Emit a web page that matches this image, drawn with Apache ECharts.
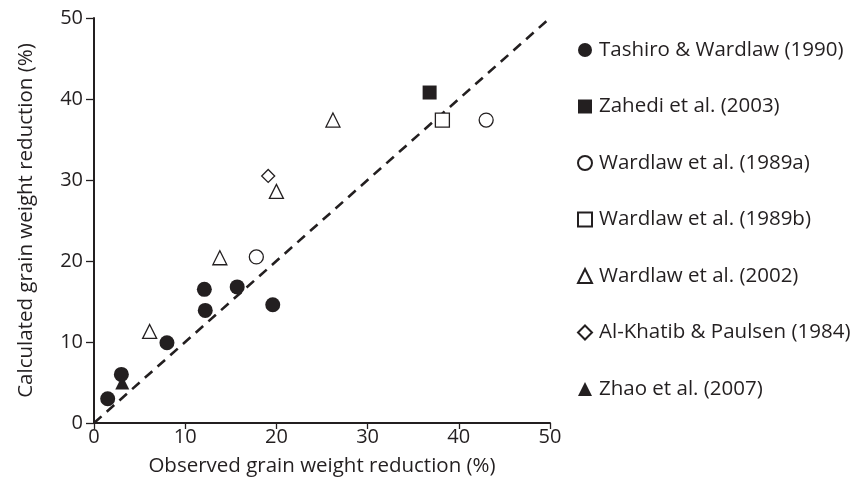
<!DOCTYPE html>
<html>
<head>
<meta charset="utf-8">
<script src="https://cdn.jsdelivr.net/npm/echarts@6/dist/echarts.min.js"></script>
<style>html,body{margin:0;padding:0;background:#fff;}#c{width:853px;height:488px;}</style>
</head>
<body>
<div id="c"></div>
<script>
var seriesNames = ['Tashiro & Wardlaw (1990)','Zahedi et al. (2003)','Wardlaw et al. (1989a)','Wardlaw et al. (1989b)','Wardlaw et al. (2002)','Al-Khatib & Paulsen (1984)','Zhao et al. (2007)'];
var tashiro = [[1.5,3.0],[3.0,6.0],[8.0,9.9],[12.1,16.5],[12.2,13.9],[15.7,16.8],[19.6,14.6]];
var zahedi = [[36.8,40.8]];
var wardlaw1989a = [[17.8,20.5],[43.0,37.4]];
var wardlaw1989b = [[38.2,37.4]];
var wardlaw2002 = [[6.1,11.3],[13.8,20.4],[20.0,28.6],[26.2,37.4]];
var alKhatib = [[19.1,30.5]];
var zhao = [[3.1,5.0]];
var oneToOne = [[0,0],[50,50]];
var xTicks = [0,10,20,30,40,50];
var yTicks = [0,10,20,30,40,50];

var ink = '#231f20';
var font = '"Open Sans", sans-serif';
function sc(name, data, symbol, size, filled) {
  return {
    name: name, type: 'scatter', data: data, symbol: symbol, symbolSize: size,
    itemStyle: { color: filled ? ink : '#fff', borderColor: ink, borderWidth: filled ? 0 : 1.3, opacity: 1 },
    emphasis: { disabled: true }, z: 3
  };
}
var chart = echarts.init(document.getElementById('c'), null, { renderer: 'canvas' });
chart.setOption({
  animation: false,
  backgroundColor: '#fff',
  textStyle: { fontFamily: font, color: ink, fontSize: 20 },
  grid: { left: 94, right: 303, top: 18, bottom: 65, containLabel: false },
  xAxis: {
    type: 'value', min: xTicks[0], max: xTicks[xTicks.length-1], interval: 10,
    name: 'Observed grain weight reduction (%)', nameLocation: 'middle', nameGap: 33,
    nameTextStyle: { fontSize: 20.5, color: ink, fontFamily: font },
    axisLine: { show: true, onZero: false, lineStyle: { color: ink, width: 2 } },
    axisTick: { show: true, length: 6, lineStyle: { color: ink, width: 1.3 } },
    axisLabel: { fontSize: 20, color: ink, margin: 4, fontFamily: font },
    splitLine: { show: false }
  },
  yAxis: {
    type: 'value', min: yTicks[0], max: yTicks[yTicks.length-1], interval: 10,
    name: 'Calculated grain weight reduction (%)', nameLocation: 'middle', nameGap: 57, nameRotate: 90,
    nameTextStyle: { fontSize: 20.5, color: ink, fontFamily: font },
    axisLine: { show: true, onZero: false, lineStyle: { color: ink, width: 2 } },
    axisTick: { show: true, length: 8, lineStyle: { color: ink, width: 1.3 } },
    axisLabel: { fontSize: 20, color: ink, margin: 11, fontFamily: font },
    splitLine: { show: false }
  },
  legend: {
    orient: 'vertical', left: 572, top: 34,
    data: seriesNames,
    itemWidth: 14, itemHeight: 14, itemGap: 34.5,
    textStyle: { fontSize: 20.5, color: ink, fontFamily: font, lineHeight: 22, padding: [0,0,0,2] },
    selectedMode: false
  },
  series: [
    {
      name: '1:1', type: 'line', data: oneToOne, symbol: 'none', silent: true,
      lineStyle: { color: ink, width: 2.6, type: [10, 7] }, z: 2
    },
    sc(seriesNames[0], tashiro, 'circle', 15, true),
    sc(seriesNames[1], zahedi, 'rect', 14, true),
    sc(seriesNames[2], wardlaw1989a, 'circle', 14, false),
    sc(seriesNames[3], wardlaw1989b, 'rect', 14, false),
    sc(seriesNames[4], wardlaw2002, 'triangle', 14, false),
    sc(seriesNames[5], alKhatib, 'diamond', [13,13], false),
    sc(seriesNames[6], zhao, 'triangle', 14, true)
  ]
});
</script>
</body>
</html>
